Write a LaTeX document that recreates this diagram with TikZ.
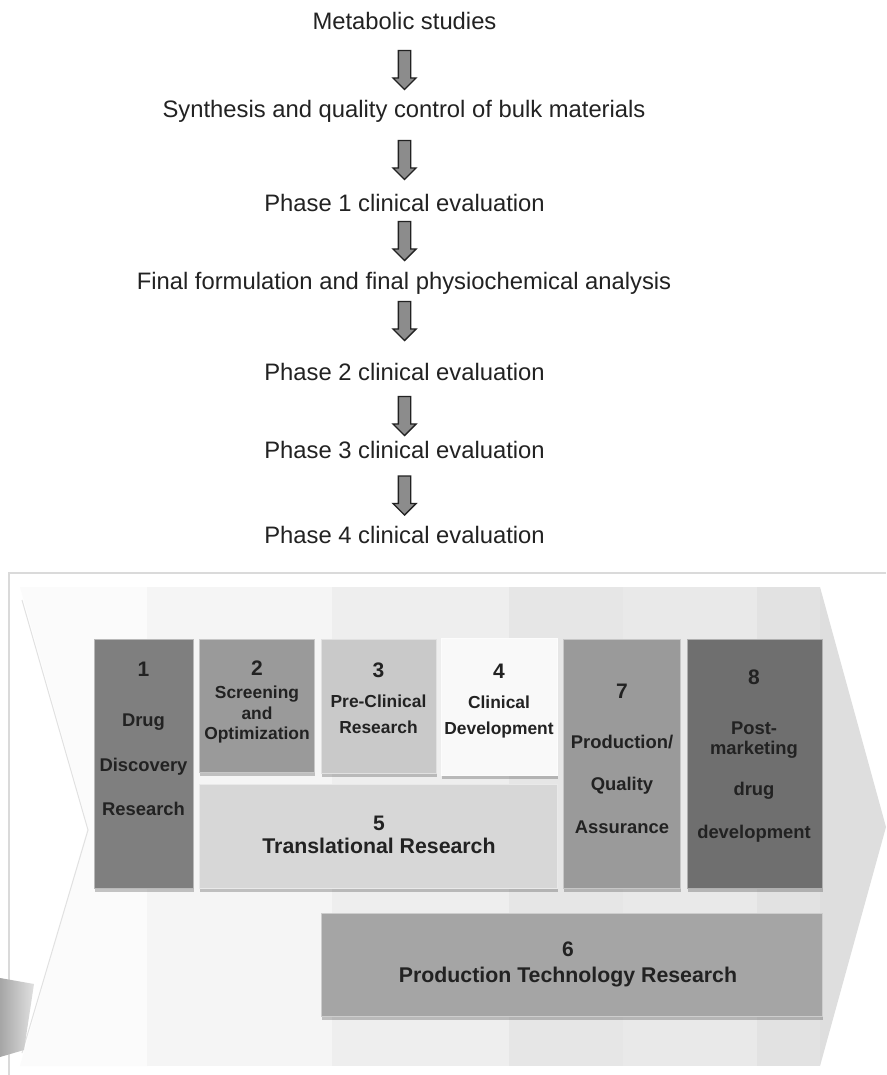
\documentclass[tikz,border=0pt]{standalone}
\usepackage{fontspec}
\setmainfont{Liberation Sans}
\usetikzlibrary{shapes.arrows,shadows}
\definecolor{tx}{HTML}{222222}
\definecolor{cb1}{HTML}{7F7F7F}
\definecolor{cb2}{HTML}{9A9A9A}
\definecolor{cb3}{HTML}{C9C9C9}
\definecolor{cb4}{HTML}{F9F9F9}
\definecolor{cb5}{HTML}{D7D7D7}
\definecolor{cb6}{HTML}{A5A5A5}
\definecolor{cb7}{HTML}{9A9A9A}
\definecolor{cb8}{HTML}{6F6F6F}
\definecolor{arrfill}{HTML}{8C8C8C}
\definecolor{framecol}{HTML}{DADADA}
\definecolor{bandA}{HTML}{FBFBFB}
\definecolor{bandB}{HTML}{F5F5F5}
\definecolor{bandC}{HTML}{EEEEEE}
\definecolor{bandD}{HTML}{E6E6E6}
\definecolor{bandE}{HTML}{E9E9E9}
\definecolor{bandF}{HTML}{E2E2E2}
\definecolor{bandG}{HTML}{DEDEDE}
\tikzset{
  toptext/.style={font=\fontsize{23.8}{28}\selectfont, text=tx, anchor=base, inner sep=0pt},
  blockarrow/.style={single arrow, rotate=-90, draw=tx, fill=arrfill, line width=1.3pt,
    minimum height=39pt, minimum width=22pt, single arrow head extend=5.5pt,
    inner sep=5.5pt},
  box/.style={anchor=north west, inner sep=0pt, fill=#1, draw=#1!55!white, line width=1pt,
    drop shadow={shadow xshift=0pt, shadow yshift=-3.5pt, opacity=.22, fill=black}},
  num/.style={font=\bfseries\fontsize{21}{21}\selectfont, text=tx, anchor=base, inner sep=0pt},
  lbl/.style={font=\bfseries\fontsize{18.4}{18}\selectfont, text=tx, anchor=base, inner sep=0pt},
  lbls/.style={font=\bfseries\fontsize{17.4}{17}\selectfont, text=tx, anchor=base, inner sep=0pt},
  lblb/.style={font=\bfseries\fontsize{21.3}{21}\selectfont, text=tx, anchor=base, inner sep=0pt},
}
\begin{document}
\begin{tikzpicture}[x=1pt,y=-1pt]
\useasboundingbox (0,0) rectangle (886,1075);
\fill[white] (0,0) rectangle (886,1075);

% ---------- top flow ----------
\node[toptext] (t1) at (404.5,30) {Metabolic studies};
\node[toptext] (t2) at (404,118) {Synthesis and quality control of bulk materials};
\node[toptext] (t3) at (404.5,212) {Phase 1 clinical evaluation};
\node[toptext] (t4) at (404,289) {Final formulation and final physiochemical analysis};
\node[toptext] (t5) at (404.5,380) {Phase 2 clinical evaluation};
\node[toptext] (t6) at (404.5,458) {Phase 3 clinical evaluation};
\node[toptext] (t7) at (404.5,543) {Phase 4 clinical evaluation};

\node[blockarrow] (a1) at (404.5,67) {};
\node[blockarrow] (a2) at (404.5,157) {};
\node[blockarrow] (a3) at (404.5,238) {};
\node[blockarrow] (a4) at (404.5,318) {};
\node[blockarrow] (a5) at (404.5,413) {};
\node[blockarrow] (a6) at (404.5,492.5) {};

% ---------- frame and chevron ----------
\draw[framecol, line width=1.2pt] (9,1075) -- (9,573) -- (886,573);
\fill[bandA] (20,587) -- (147,587) -- (147,1066) -- (20,1066) -- (88,827) -- cycle;
\fill[bandB] (147,587) rectangle (332,1066);
\fill[bandC] (332,587) rectangle (509,1066);
\fill[bandD] (509,587) rectangle (623,1066);
\fill[bandE] (623,587) rectangle (757,1066);
\fill[bandF] (757,587) rectangle (820,1066);
\fill[bandG] (820,587) -- (886,827) -- (820,1066) -- cycle;
\draw[framecol!80!white, line width=1pt] (22,600) -- (88,830) -- (22,1053);
\shade[left color=black!35, right color=black!12] (0,978) -- (34,984) -- (24,1050) -- (0,1057) -- cycle;

% ---------- boxes ----------
\node[box=cb1, minimum width=99pt, minimum height=249pt] (b1) at (94,639) {};
\node[box=cb2, minimum width=115pt, minimum height=133pt] (b2) at (199,639) {};
\node[box=cb3, minimum width=115pt, minimum height=134pt] (b3) at (321,639) {};
\node[box=cb4, minimum width=116pt, minimum height=137pt] (b4) at (441,638) {};
\node[box=cb5, minimum width=358pt, minimum height=104pt] (b5) at (199,784) {};
\node[box=cb7, minimum width=117pt, minimum height=249pt] (b7) at (563,639) {};
\node[box=cb8, minimum width=135pt, minimum height=249pt] (b8) at (687,639) {};
\node[box=cb6, minimum width=501pt, minimum height=103pt] (b6) at (321,913) {};

% ---------- box texts ----------
\node[num] (n1) at (143.5,676) {1};
\node[lbl] (l1a) at (143.5,726) {Drug};
\node[lbl] (l1b) at (143.5,771) {Discovery};
\node[lbl] (l1c) at (143.5,815) {Research};

\node[num] (n2) at (257,675) {2};
\node[lbls] (l2a) at (257,698) {Screening};
\node[lbls] (l2b) at (257,719) {and};
\node[lbls] (l2c) at (257,739) {Optimization};

\node[num] (n3) at (378.5,677) {3};
\node[lbls] (l3a) at (378.5,707) {Pre-Clinical};
\node[lbls] (l3b) at (378.5,733) {Research};

\node[num] (n4) at (499,678) {4};
\node[lbls] (l4a) at (499,708) {Clinical};
\node[lbls] (l4b) at (499,734) {Development};

\node[num] (n5) at (379,830) {5};
\node[lblb] (l5a) at (379,853) {Translational Research};

\node[num] (n7) at (622,698) {7};
\node[lbl] (l7a) at (622,748) {Production/};
\node[lbl] (l7b) at (622,790) {Quality};
\node[lbl] (l7c) at (622,833) {Assurance};

\node[num] (n8) at (754,684) {8};
\node[lbl] (l8a) at (754,734) {Post-};
\node[lbl] (l8b) at (754,754) {marketing};
\node[lbl] (l8c) at (754,795) {drug};
\node[lbl] (l8d) at (754,838) {development};

\node[num] (n6) at (568,956) {6};
\node[lblb] (l6a) at (568,982) {Production Technology Research};
\end{tikzpicture}
\end{document}
